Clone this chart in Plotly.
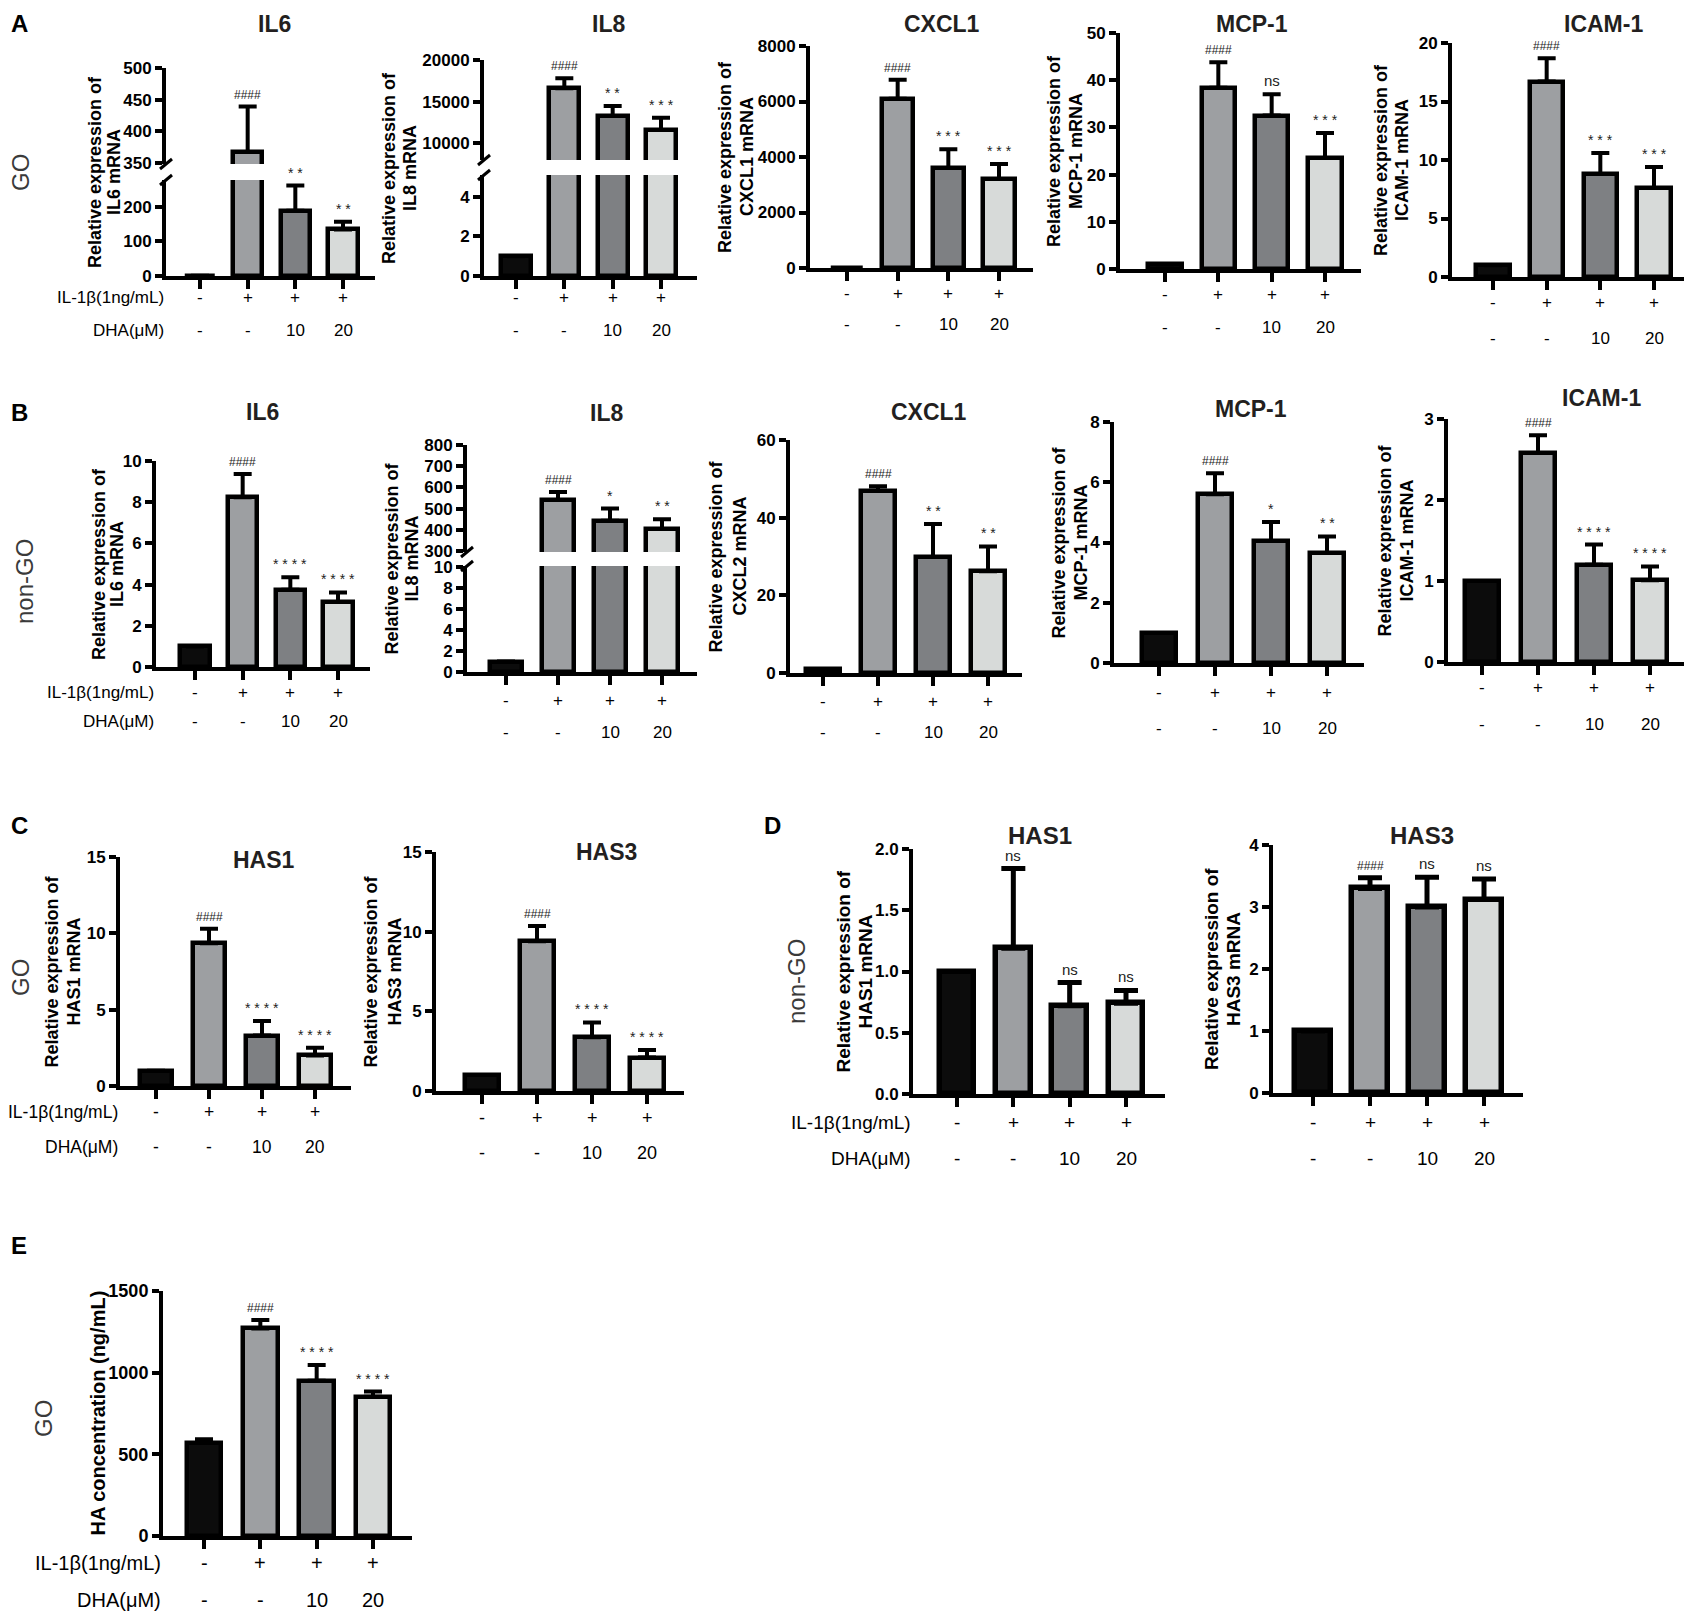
import plotly.graph_objects as go

W, H = 1692, 1611
OFF = 8  # the page body margin shifts the figure; lay it out in window pixels
FONT = "Liberation Sans, Arial, sans-serif"

# ---------------- data ----------------
GROUP_POS = [0, 1, 2, 3]
IL1B_ROW = ["-", "+", "+", "+"]
DHA_ROW = ["-", "-", "10", "20"]
BAR_FILLS = ["#0c0c0c", "#9d9fa2", "#7e8083", "#d7dad9"]

# A: GO, cytokines
A_IL6 = [1, 367, 189, 135]
A_IL6_SD = [0, 72, 73, 22]
A_IL6_SIG = ["", "####", "**", "**"]
A_IL8 = [1, 16600, 13280, 11600]
A_IL8_SD = [0, 1200, 1200, 1480]
A_IL8_SIG = ["", "####", "**", "***"]
A_CXCL1 = [1, 6096, 3605, 3210]
A_CXCL1_SD = [0, 684, 670, 540]
A_CXCL1_SIG = ["", "####", "***", "***"]
A_MCP1 = [1, 38.4, 32.5, 23.5]
A_MCP1_SD = [0, 5.4, 4.5, 5.3]
A_MCP1_SIG = ["", "####", "ns", "***"]
A_ICAM1 = [1, 16.7, 8.8, 7.6]
A_ICAM1_SD = [0, 2.0, 1.8, 1.8]
A_ICAM1_SIG = ["", "####", "***", "***"]

# B: non-GO, cytokines
B_IL6 = [1, 8.24, 3.75, 3.15]
B_IL6_SD = [0, 1.13, 0.61, 0.47]
B_IL6_SIG = ["", "####", "****", "****"]
B_IL8 = [1, 540, 443, 403]
B_IL8_SD = [0, 38, 57, 47]
B_IL8_SIG = ["", "####", "*", "**"]
B_CXCL2 = [1, 46.9, 29.9, 26.2]
B_CXCL2_SD = [0, 1.2, 8.5, 6.4]
B_CXCL2_SIG = ["", "####", "**", "**"]
B_MCP1 = [1, 5.6, 4.05, 3.65]
B_MCP1_SD = [0, 0.7, 0.63, 0.55]
B_MCP1_SIG = ["", "####", "*", "**"]
B_ICAM1 = [1, 2.58, 1.2, 1.01]
B_ICAM1_SD = [0, 0.22, 0.25, 0.17]
B_ICAM1_SIG = ["", "####", "****", "****"]

# C: GO, HAS
C_HAS1 = [1, 9.35, 3.3, 2.0]
C_HAS1_SD = [0, 0.95, 0.95, 0.5]
C_HAS3 = [1, 9.4, 3.37, 2.1]
C_HAS3_SD = [0, 0.95, 0.93, 0.47]
C_SIG = ["", "####", "****", "****"]

# D: non-GO, HAS
D_HAS1 = [1, 1.19, 0.72, 0.74]
D_HAS1_SD = [0, 0.65, 0.19, 0.105]
D_HAS1_SIG = ["", "ns", "ns", "ns"]
D_HAS3 = [1, 3.3, 3.0, 3.12]
D_HAS3_SD = [0, 0.17, 0.48, 0.33]
D_HAS3_SIG = ["", "####", "ns", "ns"]

# E: GO, HA secretion
E_HA = [571, 1271, 951, 853]
E_HA_SD = [21, 51, 96, 31]
E_HA_SIG = ["", "####", "****", "****"]


def fx(px):
    return (px - OFF) / (W - OFF)


def fy(px):
    return 1 - (px - OFF) / (H - OFF)


# panel geometry in reference pixels: y-axis x, x-axis end, first/last bar centre,
# y segments (lo, hi, px of hi, px of lo, tick values)
PANELS = [
    dict(title=("IL6", 274, 24), lines=("Relative expression of", "IL6 mRNA"), lx=(95, 114),
         L=166, R=375, c1=200, c4=343, rows=(298, 330), head=True,
         seg=[(0, 278, 180, 276, [0, 100, 200]), (348, 500, 68, 164, [350, 400, 450, 500])],
         y=A_IL6, sd=A_IL6_SD, sig=A_IL6_SIG),
    dict(title=("IL8", 608, 24), lines=("Relative expression of", "IL8 mRNA"), lx=(389, 410),
         L=484, R=697, c1=516, c4=661, rows=(298, 330),
         seg=[(0, 5.1, 175, 276, [0, 2, 4]), (8000, 20000, 60, 160, [10000, 15000, 20000])],
         y=A_IL8, sd=A_IL8_SD, sig=A_IL8_SIG),
    dict(title=("CXCL1", 942, 24), lines=("Relative expression of", "CXCL1 mRNA"), lx=(725, 747),
         L=810, R=1033, c1=847, c4=999, rows=(293, 325),
         seg=[(0, 8000, 46, 268, [0, 2000, 4000, 6000, 8000])],
         y=A_CXCL1, sd=A_CXCL1_SD, sig=A_CXCL1_SIG),
    dict(title=("MCP-1", 1252, 24), lines=("Relative expression of", "MCP-1 mRNA"), lx=(1054, 1076),
         L=1120, R=1361, c1=1165, c4=1325, rows=(295, 328),
         seg=[(0, 50, 33, 269, [0, 10, 20, 30, 40, 50])],
         y=A_MCP1, sd=A_MCP1_SD, sig=A_MCP1_SIG),
    dict(title=("ICAM-1", 1603, 24), lines=("Relative expression of", "ICAM-1 mRNA"), lx=(1381, 1402),
         L=1452, R=1690, c1=1493, c4=1654, rows=(302, 338),
         seg=[(0, 20, 43, 277, [0, 5, 10, 15, 20])],
         y=A_ICAM1, sd=A_ICAM1_SD, sig=A_ICAM1_SIG),
    dict(title=("IL6", 262, 412), lines=("Relative expression of", "IL6 mRNA"), lx=(99, 117),
         L=156, R=370, c1=195, c4=338, rows=(692, 722), head=True,
         seg=[(0, 10, 461, 667, [0, 2, 4, 6, 8, 10])],
         y=B_IL6, sd=B_IL6_SD, sig=B_IL6_SIG),
    dict(title=("IL8", 606, 413), lines=("Relative expression of", "IL8 mRNA"), lx=(391, 411),
         L=467, R=697, c1=506, c4=662, rows=(700, 732),
         seg=[(0, 10.1, 566, 672, [0, 2, 4, 6, 8, 10]), (295, 800, 445, 552, [300, 400, 500, 600, 700, 800])],
         y=B_IL8, sd=B_IL8_SD, sig=B_IL8_SIG),
    dict(title=("CXCL1", 929, 412), lines=("Relative expression of", "CXCL2 mRNA"), lx=(716, 740),
         L=790, R=1022, c1=823, c4=988, rows=(702, 733),
         seg=[(0, 60, 440, 673, [0, 20, 40, 60])],
         y=B_CXCL2, sd=B_CXCL2_SD, sig=B_CXCL2_SIG),
    dict(title=("MCP-1", 1251, 409), lines=("Relative expression of", "MCP-1 mRNA"), lx=(1058, 1080),
         L=1114, R=1364, c1=1159, c4=1327, rows=(692, 728),
         seg=[(0, 8, 422, 663, [0, 2, 4, 6, 8])],
         y=B_MCP1, sd=B_MCP1_SD, sig=B_MCP1_SIG),
    dict(title=("ICAM-1", 1601, 398), lines=("Relative expression of", "ICAM-1 mRNA"), lx=(1384, 1406),
         L=1448, R=1687, c1=1482, c4=1650, rows=(687, 725),
         seg=[(0, 3, 419, 662, [0, 1, 2, 3])],
         y=B_ICAM1, sd=B_ICAM1_SD, sig=B_ICAM1_SIG),
    dict(title=("HAS1", 264, 860), lines=("Relative expression of", "HAS1 mRNA"), lx=(51, 73),
         L=120, R=351, c1=156, c4=315, rows=(1112, 1147), head=True, rsz=17.5,
         seg=[(0, 15, 857, 1086, [0, 5, 10, 15])],
         y=C_HAS1, sd=C_HAS1_SD, sig=C_SIG),
    dict(title=("HAS3", 606, 852), lines=("Relative expression of", "HAS3 mRNA"), lx=(370, 394),
         L=436, R=684, c1=482, c4=647, rows=(1118, 1153), rsz=18,
         seg=[(0, 15, 852, 1091, [0, 5, 10, 15])],
         y=C_HAS3, sd=C_HAS3_SD, sig=C_SIG),
    dict(title=("HAS1", 1040, 835), lines=("Relative expression of", "HAS1 mRNA"), lx=(843, 865),
         L=913, R=1165, c1=957, c4=1126, rows=(1122, 1158), head=True, fmt=".1f",
         rsz=19, lsize=19, tsize=24, lw=5.5, cap=12,
         seg=[(0, 2, 849, 1094, [0, 0.5, 1, 1.5, 2])],
         y=D_HAS1, sd=D_HAS1_SD, sig=D_HAS1_SIG),
    dict(title=("HAS3", 1422, 835), lines=("Relative expression of", "HAS3 mRNA"), lx=(1211, 1233),
         L=1273, R=1523, c1=1313, c4=1484, rows=(1122, 1158), rsz=19, lsize=19, tsize=24, lw=5.5, cap=12,
         seg=[(0, 4, 845, 1093, [0, 1, 2, 3, 4])],
         y=D_HAS3, sd=D_HAS3_SD, sig=D_HAS3_SIG),
    dict(title=None, lines=("HA concentration (ng/mL)",), lx=(97,), lsize=20, rsz=20, tsz=18,
         L=163, R=412, c1=204, c4=373, rows=(1563, 1600), head=True,
         seg=[(0, 1500, 1291, 1536, [0, 500, 1000, 1500])],
         y=E_HA, sd=E_HA_SD, sig=E_HA_SIG),
]

PANEL_LETTERS = [("A", 19, 24), ("B", 19, 412), ("C", 19, 825), ("D", 772, 825), ("E", 19, 1245)]
GROUP_LABELS = [("GO", 20, 173), ("non-GO", 25, 582), ("GO", 20, 978), ("non-GO", 796, 982), ("GO", 43, 1419)]

fig = go.Figure()
layout = {}
annotations = []
shapes = []
nx = 0
ny = 0


def note(x, y, text, font, **kw):
    a = dict(x=x, y=y, text=text, showarrow=False, font=font,
             xref="paper", yref="paper", xanchor="center", yanchor="middle")
    a.update(kw)
    annotations.append(a)


for p in PANELS:
    nx += 1
    xid = "x" if nx == 1 else f"x{nx}"
    d = (p["c4"] - p["c1"]) / 3
    xr = [-(p["c1"] - p["L"]) / d, 3 + (p["R"] - p["c4"]) / d]
    lw = p.get("lw", 4.5)
    yids = []
    for lo, hi, ptop, pbot, tv in p["seg"]:
        ny += 1
        yid = "y" if ny == 1 else f"y{ny}"
        yids.append((yid, lo, hi, ptop, pbot))
        layout["yaxis" if ny == 1 else f"yaxis{ny}"] = dict(
            domain=[fy(pbot), fy(ptop)], range=[lo, hi], anchor=xid, automargin=False,
            showline=True, linewidth=4, linecolor="black", ticks="outside",
            ticklen=7, tickwidth=4, tickcolor="black", tickvals=tv,
            tickformat=p.get("fmt", "d"), showgrid=False, zeroline=False,
            tickfont=dict(family=FONT, size=p.get("tsz", 17), color="black", weight="bold"),
        )
        fig.add_trace(go.Bar(
            x=GROUP_POS, y=p["y"], width=0.62, xaxis=xid, yaxis=yid, showlegend=False,
            marker=dict(color=BAR_FILLS, line=dict(color="black", width=lw)),
            error_y=dict(type="data", symmetric=False, array=p["sd"], arrayminus=[0] * 4,
                         color="black", thickness=lw - 0.5, width=p.get("cap", 9)),
        ))
    layout["xaxis" if nx == 1 else f"xaxis{nx}"] = dict(
        domain=[fx(p["L"]), fx(p["R"])], range=xr, anchor=yids[0][0], automargin=False,
        showline=True, linewidth=4, linecolor="black", ticks="outside",
        ticklen=9, tickwidth=4, tickcolor="black", tickvals=GROUP_POS,
        showticklabels=False, showgrid=False, zeroline=False,
    )

    # broken-axis marks
    if len(yids) > 1:
        for yy in (yids[0][3], yids[1][4]):
            shapes.append(dict(type="line", xref="paper", yref="paper",
                               x0=fx(p["L"] - 6), x1=fx(p["L"] + 6),
                               y0=fy(yy + 5), y1=fy(yy - 5),
                               line=dict(color="black", width=3)))

    # significance marks above error bars
    for i, s in enumerate(p["sig"]):
        if not s:
            continue
        top = p["y"][i] + p["sd"][i]
        yid = yids[0][0]
        for sid, lo, hi, _, _ in yids:
            if top >= lo:
                yid = sid
        if s.startswith("#"):
            f = dict(family=FONT, size=12, color="#222")
            txt = s
        elif s == "ns":
            f = dict(family=FONT, size=15, color="#222")
            txt = s
        else:
            f = dict(family=FONT, size=14, color="#222")
            txt = " ".join(s)
        annotations.append(dict(x=i, y=top, xref=xid, yref=yid, text=txt, showarrow=False,
                                xanchor="center", yanchor="bottom", yshift=3, font=f))

    # treatment rows under each panel
    row_font = dict(family=FONT, size=p.get("rsz", 17), color="black")
    for i in GROUP_POS:
        note(i, fy(p["rows"][0]), IL1B_ROW[i], row_font, xref=xid)
        note(i, fy(p["rows"][1]), DHA_ROW[i], row_font, xref=xid)
    if p.get("head"):
        for txt, yy in (("IL-1β(1ng/mL)", p["rows"][0]), ("DHA(μM)", p["rows"][1])):
            note(fx(p["L"]), fy(yy), txt, row_font, xanchor="right")

    # panel title
    if p["title"]:
        t, tx, ty = p["title"]
        note(fx(tx), fy(ty), t, dict(family=FONT, size=p.get("tsize", 23), color="#231f20", weight="bold"))

    # y axis title, one annotation per line
    ymid = (p["seg"][-1][2] + p["seg"][0][3]) / 2
    for line, lxp in zip(p["lines"], p["lx"]):
        note(fx(lxp), fy(ymid), line,
             dict(family=FONT, size=p.get("lsize", 18), color="black", weight="bold"), textangle=-90)

for t, x, y in PANEL_LETTERS:
    note(fx(x), fy(y), t, dict(family=FONT, size=24, color="black", weight="bold"))
for t, x, y in GROUP_LABELS:
    note(fx(x), fy(y), t, dict(family=FONT, size=24, color="#3a3a3a"), textangle=-90)

fig.update_layout(
    template="none", width=W - OFF, height=H - OFF,
    margin=dict(l=0, r=0, t=0, b=0, autoexpand=False),
    paper_bgcolor="white", plot_bgcolor="white", showlegend=False,
    annotations=annotations, shapes=shapes, bargap=0, **layout,
)

fig.write_html("out.html")
